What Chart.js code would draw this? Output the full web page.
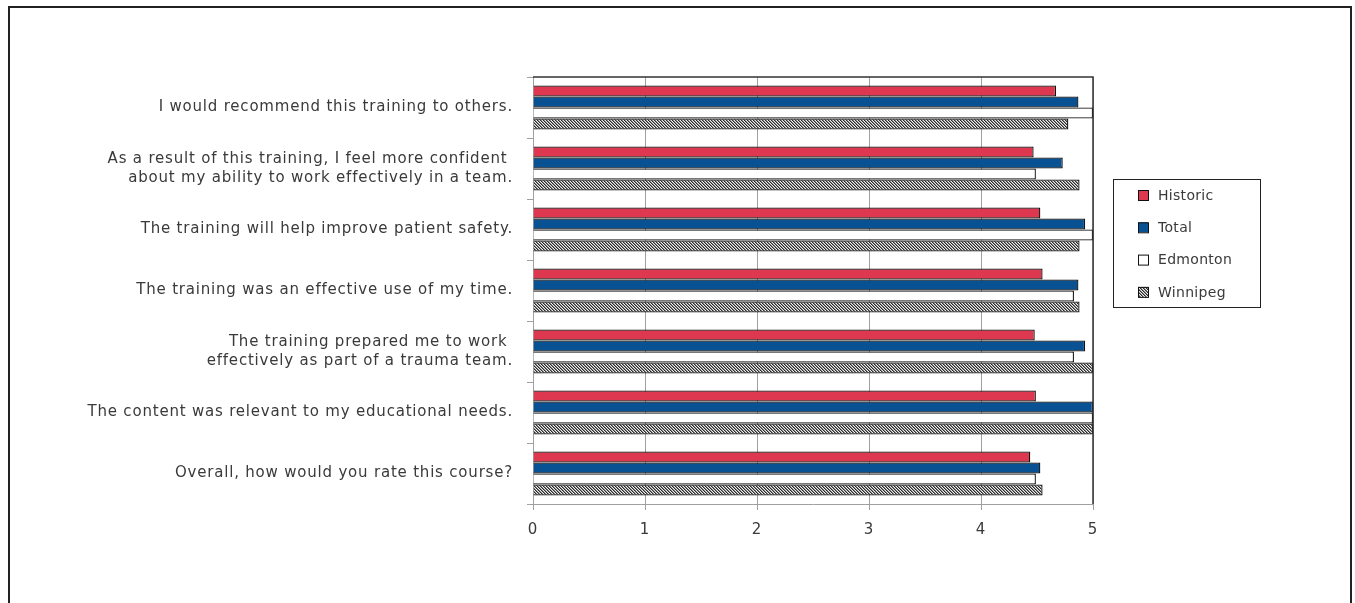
<!DOCTYPE html>
<html>
<head>
<meta charset="utf-8">
<script src="https://cdn.jsdelivr.net/npm/chart.js@4"></script>
<style>
  html, body { margin: 0; padding: 0; background: #fff; overflow: hidden; }
  #frame { position: absolute; left: 8px; top: 6px; width: 1340px; height: 640px; border: 2px solid #222; border-bottom: none; }
  #wrap { position: absolute; left: 0; top: 0; width: 1355px; height: 603px; }
</style>
</head>
<body>
<div id="frame"></div>
<div id="wrap"><canvas id="chartBar"></canvas></div>
<script>
const categories = [
  "I would recommend this training to others.",
  ["As a result of this training, I feel more confident ", "about my ability to work effectively in a team."],
  "The training will help improve patient safety.",
  "The training was an effective use of my time.",
  ["The training prepared me to work ", "effectively as part of a trauma team."],
  "The content was relevant to my educational needs.",
  "Overall, how would you rate this course?",
];
const historic = [4.67, 4.47, 4.53, 4.55, 4.48, 4.49, 4.44];
const total = [4.87, 4.73, 4.93, 4.87, 4.93, 5.0, 4.53];
const edmonton = [5.0, 4.49, 5.0, 4.83, 4.83, 5.0, 4.49];
const winnipeg = [4.78, 4.88, 4.88, 4.88, 5.0, 5.0, 4.55];
const xTicks = [0, 1, 2, 3, 4, 5];

// hatch fill for Winnipeg
function hatch() {
  const c = document.createElement("canvas");
  c.width = 3; c.height = 3;
  const g = c.getContext("2d");
  g.fillStyle = "#eeeeee";
  g.fillRect(0, 0, 3, 3);
  g.fillStyle = "#2a2a2a";
  g.fillRect(0, 0, 1, 1);
  g.fillRect(1, 1, 1, 1);
  g.fillRect(2, 2, 1, 1);
  g.fillStyle = "#888";
  g.fillRect(1, 0, 1, 1);
  g.fillRect(2, 1, 1, 1);
  g.fillRect(0, 2, 1, 1);
  return g.createPattern(c, "repeat");
}
const winPattern = hatch();

const FONT = "'DejaVu Sans', 'Liberation Sans', sans-serif";

const spacing = {
  id: "spacing",
  beforeDraw(chart) { chart.ctx.letterSpacing = "0.8px"; },
};

const plotFrame = {
  id: "plotFrame",
  afterDatasetsDraw(chart) {
    const { ctx, chartArea: a } = chart;
    ctx.save();
    ctx.strokeStyle = "#333";
    ctx.lineWidth = 1.5;
    ctx.beginPath();
    ctx.moveTo(a.left, a.top);
    ctx.lineTo(a.right, a.top);
    ctx.lineTo(a.right, a.bottom);
    ctx.stroke();
    ctx.restore();
  },
};

const boxLegend = {
  id: "boxLegend",
  afterDraw(chart) {
    const ctx = chart.ctx;
    const x = 1113, y = 179, w = 147, h = 128;
    ctx.save();
    ctx.strokeStyle = "#222";
    ctx.lineWidth = 1;
    ctx.strokeRect(x + 0.5, y + 0.5, w, h);
    ctx.font = "14px " + FONT;
    ctx.letterSpacing = "0.3px";
    ctx.textBaseline = "middle";
    chart.data.datasets.forEach((ds, i) => {
      const cy = y + 16 + i * 32.3;
      ctx.fillStyle = ds.backgroundColor;
      ctx.fillRect(x + 25, cy - 5, 10, 10);
      ctx.strokeStyle = "#111";
      ctx.strokeRect(x + 25.5, cy - 4.5, 10, 10);
      ctx.fillStyle = "#3a3a3a";
      ctx.fillText(ds.label, x + 45, cy + 1);
    });
    ctx.restore();
  },
};

const barStyle = { borderColor: "#111", borderWidth: 1.3, borderSkipped: "left", categoryPercentage: 0.72, barPercentage: 1 };

const chartBar = new Chart("chartBar", {
  type: "bar",
  data: {
    labels: categories,
    datasets: [
      { label: "Historic", data: historic, backgroundColor: "rgb(222, 56, 80)", ...barStyle },
      { label: "Total", data: total, backgroundColor: "rgb(8, 82, 148)", ...barStyle },
      { label: "Edmonton", data: edmonton, backgroundColor: "#ffffff", ...barStyle },
      { label: "Winnipeg", data: winnipeg, backgroundColor: winPattern, ...barStyle },
    ],
  },
  options: {
    indexAxis: "y",
    responsive: true,
    maintainAspectRatio: false,
    animation: false,
    layout: { padding: { left: 0, right: 262, top: 77, bottom: 0 } },
    plugins: { legend: { display: false }, tooltip: { enabled: false } },
    scales: {
      x: {
        min: 0,
        max: 5,
        afterBuildTicks: (s) => { s.ticks = xTicks.map((v) => ({ value: v })); },
        afterFit: (s) => { s.height = 99; },
        grid: { color: "#a0a0a0", lineWidth: 1, tickLength: 6 },
        border: { color: "#a0a0a0" },
        ticks: { color: "#3a3a3a", font: { family: FONT, size: 15 }, padding: 11 },
      },
      y: {
        afterFit: (s) => { s.width = 533; },
        grid: { drawOnChartArea: false, color: "#a0a0a0", tickLength: 6 },
        border: { color: "#a0a0a0" },
        ticks: { color: "#3a3a3a", font: { family: FONT, size: 15, lineHeight: 1.3 }, padding: 14, autoSkip: false },
      },
    },
  },
  plugins: [spacing, plotFrame, boxLegend],
});
</script>
</body>
</html>
